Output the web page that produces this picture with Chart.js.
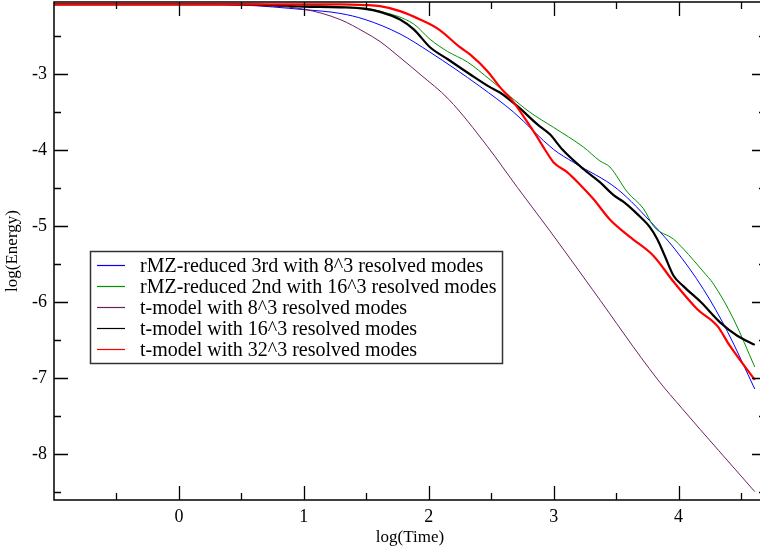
<!DOCTYPE html>
<html><head><meta charset="utf-8">
<script src="https://cdn.jsdelivr.net/npm/chart.js@4.4.0/dist/chart.umd.min.js"></script>
<style>html,body{margin:0;padding:0;background:#fff;overflow:hidden;width:760px;height:552px}canvas{display:block}</style>
</head><body><canvas id="c" width="772" height="552" style="width:772px;height:552px"></canvas>
<script>
// ---- data ----
const seriesLabels = [
  "rMZ-reduced 3rd with 8^3 resolved modes",
  "rMZ-reduced 2nd with 16^3 resolved modes",
  "t-model with 8^3 resolved modes",
  "t-model with 16^3 resolved modes",
  "t-model with 32^3 resolved modes"
];
const rmz3Time   = [-1, 0, 0.5, 1.0, 1.29, 1.49, 1.77, 2.01, 2.41, 2.68, 3.0, 3.16, 3.51, 3.81, 3.97, 4.2, 4.39, 4.61];
const rmz3Energy = [-2.08, -2.08, -2.09, -2.15, -2.2, -2.28, -2.47, -2.71, -3.16, -3.50, -3.99, -4.16, -4.51, -5.00, -5.30, -5.83, -6.38, -7.14];

const rmz2Time   = [-1, 0, 0.5, 1.0, 1.29, 1.49, 1.61, 1.88, 2.01, 2.15, 2.31, 2.49, 2.65, 2.81, 3.0, 3.24, 3.37, 3.45, 3.59, 3.72, 3.80, 3.96, 4.04, 4.2, 4.28, 4.44, 4.61];
const rmz2Energy = [-2.08, -2.08, -2.08, -2.09, -2.11, -2.13, -2.17, -2.34, -2.54, -2.70, -2.84, -3.07, -3.29, -3.50, -3.70, -3.96, -4.14, -4.22, -4.55, -4.77, -5.00, -5.17, -5.30, -5.60, -5.76, -6.22, -6.85];

const t8Time   = [-1, 0, 0.5, 1.0, 1.29, 1.49, 1.61, 1.77, 1.93, 2.16, 2.47, 2.71, 2.97, 3.31, 3.83, 4.03, 4.61];
const t8Energy = [-2.08, -2.08, -2.09, -2.145, -2.28, -2.45, -2.57, -2.78, -3.0, -3.33, -3.95, -4.49, -5.06, -5.83, -7.01, -7.40, -8.49];

const t16Time   = [-1, 0, 0.5, 1.0, 1.29, 1.49, 1.61, 1.77, 1.88, 2.01, 2.15, 2.33, 2.49, 2.57, 2.71, 2.87, 2.97, 3.07, 3.24, 3.37, 3.48, 3.56, 3.67, 3.77, 3.83, 3.89, 3.96, 4.04, 4.18, 4.33, 4.47, 4.61];
const t16Energy = [-2.08, -2.08, -2.08, -2.11, -2.12, -2.14, -2.18, -2.28, -2.41, -2.645, -2.80, -3.0, -3.17, -3.24, -3.42, -3.66, -3.79, -3.99, -4.25, -4.42, -4.59, -4.68, -4.84, -5.01, -5.17, -5.39, -5.65, -5.79, -6.0, -6.26, -6.44, -6.56];

const t32Time   = [-1, 0, 0.5, 1.0, 1.29, 1.49, 1.61, 1.77, 1.93, 2.08, 2.25, 2.33, 2.47, 2.57, 2.68, 2.79, 2.87, 2.93, 3.0, 3.11, 3.21, 3.32, 3.45, 3.61, 3.80, 3.96, 4.15, 4.31, 4.41, 4.61];
const t32Energy = [-2.08, -2.08, -2.08, -2.08, -2.08, -2.09, -2.105, -2.17, -2.28, -2.41, -2.645, -2.74, -2.96, -3.17, -3.37, -3.63, -3.83, -3.99, -4.16, -4.29, -4.45, -4.645, -4.91, -5.14, -5.39, -5.73, -6.09, -6.31, -6.57, -7.02];

const xTickValues = [-0.5, 0, 0.5, 1, 1.5, 2, 2.5, 3, 3.5, 4, 4.5];
const xTickLabels = ["0", "1", "2", "3", "4"];
const yTickValues = [-8.5, -8, -7.5, -7, -6.5, -6, -5.5, -5, -4.5, -4, -3.5, -3, -2.5];
const yTickLabels = ["-8", "-7", "-6", "-5", "-4", "-3"];

const FONT = "'Liberation Serif', 'DejaVu Serif', serif";
const pts = (xs, ys) => xs.map((x, i) => ({x: x, y: ys[i]}));

const styles = [
  {color: '#0000ff', width: 1, order: 5},
  {color: '#009000', width: 1, order: 4},
  {color: '#6e1f62', width: 1, order: 3},
  {color: '#000000', width: 2.2, order: 2},
  {color: '#ff0000', width: 2.2, order: 1}
];
const series = [pts(rmz3Time, rmz3Energy), pts(rmz2Time, rmz2Energy), pts(t8Time, t8Energy), pts(t16Time, t16Energy), pts(t32Time, t32Energy)];

const datasets = series.map((d, i) => ({
  label: seriesLabels[i], data: d,
  borderColor: styles[i].color, backgroundColor: styles[i].color,
  borderWidth: styles[i].width, order: styles[i].order,
  pointRadius: 0, showLine: true, fill: false,
  tension: 0.4, cubicInterpolationMode: 'monotone'
}));

const frameTicks = {
  id: 'frameTicks',
  afterDatasetsDraw(chart) {
    const {ctx, chartArea: a, scales: {x, y}} = chart;
    ctx.save();
    ctx.strokeStyle = '#000';
    ctx.lineWidth = 1.5;
    ctx.strokeRect(a.left, a.top, a.right - a.left, a.bottom - a.top);
    ctx.lineWidth = 1.3;
    ctx.beginPath();
    x.ticks.forEach(t => {
      const px = Math.round(x.getPixelForValue(t.value)) + 0.5;
      const len = Number.isInteger(t.value) ? 14 : 7;
      ctx.moveTo(px, a.bottom); ctx.lineTo(px, a.bottom - len);
      ctx.moveTo(px, a.top); ctx.lineTo(px, a.top + len);
    });
    y.ticks.forEach(t => {
      const py = Math.round(y.getPixelForValue(t.value)) + 0.5;
      const len = Number.isInteger(t.value) ? 14 : 7;
      ctx.moveTo(a.left, py); ctx.lineTo(a.left + len, py);
      ctx.moveTo(a.right, py); ctx.lineTo(a.right - len, py);
    });
    ctx.stroke();
    ctx.restore();
  }
};

const boxLegend = {
  id: 'boxLegend',
  afterDraw(chart) {
    const {ctx} = chart;
    ctx.save();
    ctx.fillStyle = '#fff';
    ctx.fillRect(90, 251, 412, 112);
    ctx.strokeStyle = '#333';
    ctx.lineWidth = 1.5;
    ctx.strokeRect(90.5, 251.5, 412, 112);
    ctx.font = '20px ' + FONT;
    ctx.textBaseline = 'middle';
    ctx.textAlign = 'left';
    chart.data.datasets.forEach((ds, i) => {
      const yy = 265.5 + 21 * i;
      ctx.strokeStyle = ds.borderColor;
      ctx.lineWidth = 1.2;
      ctx.beginPath(); ctx.moveTo(97, yy); ctx.lineTo(125, yy); ctx.stroke();
      ctx.fillStyle = '#000';
      ctx.fillText(ds.label, 140, yy + 1);
    });
    ctx.restore();
  }
};

new Chart(document.getElementById('c'), {
  type: 'scatter',
  data: {datasets: datasets},
  plugins: [frameTicks, boxLegend],
  options: {
    responsive: false, animation: false,
    layout: {padding: {top: 2, right: 6, left: 0, bottom: 0}},
    plugins: {legend: {display: false}, tooltip: {enabled: false}},
    scales: {
      x: {
        type: 'linear', min: -1, max: 4.7,
        afterFit(s) { s.height = 52; s.paddingLeft = 0; s.paddingRight = 0; },
        afterBuildTicks(s) { s.ticks = xTickValues.map(v => ({value: v})); },
        grid: {display: false, drawTicks: false},
        border: {display: false},
        ticks: {
          autoSkip: false, maxRotation: 0, padding: 6, color: '#000',
          font: {family: FONT, size: 18},
          callback: v => xTickLabels.includes(String(v)) ? String(v) : ''
        },
        title: {display: true, text: 'log(Time)', color: '#000', font: {family: FONT, size: 17}, padding: {top: 0, bottom: 4}}
      },
      y: {
        type: 'linear', min: -8.6, max: -2.05,
        afterFit(s) { s.width = 54; s.paddingTop = 0; s.paddingBottom = 0; },
        afterBuildTicks(s) { s.ticks = yTickValues.map(v => ({value: v})); },
        grid: {display: false, drawTicks: false},
        border: {display: false},
        ticks: {
          autoSkip: false, padding: 7, color: '#000',
          font: {family: FONT, size: 18},
          callback: v => yTickLabels.includes(String(v)) ? String(v) : ''
        },
        title: {display: true, text: 'log(Energy)', color: '#000', font: {family: FONT, size: 17}, padding: {top: 2, bottom: 0}}
      }
    }
  }
});
</script>
</body></html>
